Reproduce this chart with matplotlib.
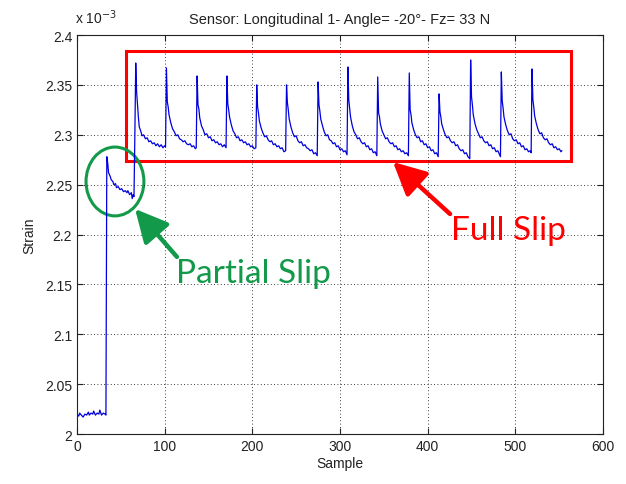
import matplotlib
matplotlib.use('Agg')
import matplotlib.pyplot as plt
from matplotlib.patches import Rectangle, Ellipse
from matplotlib.ticker import FormatStrFormatter

# strain readings (x 10^-3), one vertex per listed sample
samples = [0, 2, 3, 5, 7, 9, 11, 13, 14, 16, 18, 19, 21, 23, 25, 26, 28, 30, 32, 33,
           34, 35, 36, 38, 39, 41, 42, 44, 45, 47, 49, 51, 53, 55, 57, 58, 60, 62, 63, 64, 65,
           66, 67, 68, 69, 70, 71, 73, 74, 76, 78, 80, 82, 84, 86, 88, 90, 92, 94, 96, 98, 100, 101,
           102, 103, 104, 105, 107, 109, 111, 113, 115, 117, 119, 121, 123, 125, 127, 129, 131, 133, 135, 136,
           137, 138, 139, 140, 142, 144, 146, 148, 150, 152, 154, 156, 158, 160, 162, 164, 166, 168, 170,
           171, 172, 173, 174, 176, 178, 180, 182, 184, 186, 188, 190, 192, 194, 196, 198, 200, 202, 204,
           205, 206, 207, 208, 210, 212, 214, 216, 218, 220, 222, 224, 226, 228, 230, 232, 234, 236, 238,
           239, 240, 241, 242, 244, 246, 248, 250, 252, 254, 256, 258, 260, 262, 264, 266, 268, 270, 272, 274,
           275, 276, 277, 278, 280, 282, 284, 286, 288, 290, 292, 294, 296, 298, 300, 302, 304, 306, 308,
           309, 310, 311, 312, 314, 316, 318, 320, 322, 324, 326, 328, 330, 332, 334, 336, 338, 340, 342,
           343, 344, 345, 346, 348, 350, 352, 354, 356, 358, 360, 362, 364, 366, 368, 370, 372, 374, 376, 378,
           379, 380, 381, 382, 384, 386, 388, 390, 392, 394, 396, 398, 400, 402, 404, 406, 408, 410, 412,
           413, 414, 415, 416, 418, 420, 422, 424, 426, 428, 430, 432, 434, 436, 438, 440, 442, 444, 446, 448,
           449, 450, 451, 452, 454, 456, 458, 460, 462, 464, 466, 468, 470, 472, 474, 476, 478, 480, 482, 483,
           484, 485, 486, 487, 489, 491, 493, 495, 497, 499, 501, 503, 505, 507, 509, 511, 513, 515, 517, 518,
           519, 520, 521, 522, 524, 526, 528, 530, 532, 534, 536, 538, 540, 542, 544, 546, 548, 550, 552, 553]

strain = [2.020, 2.018, 2.021, 2.019, 2.017, 2.020, 2.019, 2.022, 2.019, 2.021, 2.020, 2.023, 2.019, 2.021, 2.020, 2.024, 2.019, 2.021, 2.020, 2.019,
          2.278, 2.272, 2.262, 2.258, 2.255, 2.253, 2.250, 2.251, 2.247, 2.248, 2.245, 2.246, 2.243, 2.244, 2.242, 2.244, 2.240, 2.242, 2.236, 2.240, 2.238,
          2.300, 2.372, 2.343, 2.330, 2.318, 2.308, 2.303, 2.299, 2.300, 2.296, 2.297, 2.293, 2.294, 2.291, 2.292, 2.289, 2.291, 2.288, 2.290, 2.287, 2.289, 2.288,
          2.367, 2.333, 2.328, 2.320, 2.312, 2.306, 2.303, 2.299, 2.300, 2.296, 2.295, 2.293, 2.294, 2.291, 2.290, 2.291, 2.288, 2.289, 2.286, 2.287,
          2.359, 2.330, 2.326, 2.317, 2.309, 2.305, 2.300, 2.301, 2.297, 2.298, 2.294, 2.295, 2.292, 2.293, 2.290, 2.291, 2.288, 2.290, 2.287,
          2.359, 2.331, 2.325, 2.318, 2.310, 2.304, 2.301, 2.297, 2.298, 2.294, 2.295, 2.292, 2.293, 2.290, 2.291, 2.288, 2.289, 2.286, 2.287,
          2.350, 2.328, 2.322, 2.314, 2.307, 2.302, 2.298, 2.299, 2.295, 2.293, 2.294, 2.290, 2.291, 2.288, 2.289, 2.286, 2.287, 2.283, 2.284,
          2.350, 2.332, 2.325, 2.316, 2.308, 2.302, 2.298, 2.299, 2.294, 2.292, 2.293, 2.289, 2.290, 2.287, 2.286, 2.284, 2.285, 2.281, 2.282, 2.279,
          2.353, 2.330, 2.324, 2.316, 2.309, 2.303, 2.299, 2.300, 2.295, 2.294, 2.291, 2.292, 2.288, 2.289, 2.285, 2.286, 2.283, 2.284, 2.280,
          2.368, 2.335, 2.327, 2.318, 2.309, 2.303, 2.300, 2.296, 2.297, 2.293, 2.291, 2.292, 2.288, 2.289, 2.285, 2.286, 2.282, 2.283, 2.279,
          2.358, 2.322, 2.318, 2.311, 2.304, 2.300, 2.296, 2.297, 2.293, 2.291, 2.292, 2.288, 2.289, 2.285, 2.286, 2.283, 2.284, 2.281, 2.282, 2.279,
          2.362, 2.325, 2.320, 2.312, 2.305, 2.300, 2.297, 2.298, 2.293, 2.294, 2.290, 2.291, 2.287, 2.288, 2.284, 2.285, 2.281, 2.282, 2.278,
          2.341, 2.323, 2.318, 2.311, 2.305, 2.300, 2.297, 2.298, 2.294, 2.292, 2.293, 2.289, 2.290, 2.286, 2.284, 2.285, 2.281, 2.282, 2.278, 2.276,
          2.375, 2.338, 2.330, 2.320, 2.311, 2.305, 2.301, 2.297, 2.298, 2.294, 2.292, 2.293, 2.289, 2.290, 2.286, 2.287, 2.283, 2.284, 2.280, 2.278,
          2.363, 2.334, 2.327, 2.318, 2.310, 2.304, 2.300, 2.301, 2.296, 2.294, 2.295, 2.291, 2.292, 2.288, 2.289, 2.285, 2.286, 2.283, 2.284, 2.282,
          2.366, 2.335, 2.328, 2.319, 2.311, 2.305, 2.301, 2.302, 2.297, 2.295, 2.296, 2.292, 2.290, 2.291, 2.287, 2.288, 2.285, 2.286, 2.283, 2.284]

x_ticks = [0, 100, 200, 300, 400, 500, 600]
y_ticks = [2.0, 2.05, 2.1, 2.15, 2.2, 2.25, 2.3, 2.35, 2.4]

plt.rcParams['font.family'] = ['Liberation Sans', 'DejaVu Sans']

fig = plt.figure(figsize=(6.26, 4.85), dpi=100)
ax = fig.add_axes([0.123, 0.103, 0.8403, 0.8227])

ax.plot(samples, strain, color='#0000dd', lw=0.9)

ax.set_xlim(0, 600)
ax.set_ylim(2.0, 2.4)
ax.set_xticks(x_ticks)
ax.set_yticks(y_ticks)
ax.yaxis.set_major_formatter(FormatStrFormatter('%g'))
ax.tick_params(direction='in', top=True, right=True, length=4, labelsize=10, colors='#222222')
ax.grid(True, linestyle=(0, (1, 3)), color='black', lw=0.6)
for s in ax.spines.values():
    s.set_color('#222222')

ax.set_title('Sensor: Longitudinal 1- Angle= -20°- Fz= 33 N', fontsize=10.5, color='#222222', pad=9)
ax.set_xlabel('Sample', fontsize=10, color='#222222', labelpad=2)
ax.set_ylabel('Strain', fontsize=10, color='#222222', labelpad=6)
ax.text(-0.004, 1.03, r'x 10$^{-3}$', transform=ax.transAxes, fontsize=10, color='#222222', ha='left', va='baseline')

# annotations drawn over the plot
ax.add_patch(Rectangle((55.5, 2.274), 508.5, 0.1097, fill=False, ec='#ff0000', lw=2.2, clip_on=False))
ax.add_patch(Ellipse((43.3, 2.2532), 66, 0.069, fill=False, ec='#12994a', lw=2.2, clip_on=False))
ax.annotate('', xy=(66.2, 2.2257), xytext=(114, 2.1776),
            arrowprops=dict(arrowstyle='-|>,head_width=0.5,head_length=1.0', lw=3.2, color='#12994a',
                            mutation_scale=20, shrinkA=0, shrinkB=0))
ax.annotate('', xy=(360.4, 2.2727), xytext=(425.5, 2.2206),
            arrowprops=dict(arrowstyle='-|>,head_width=0.5,head_length=1.0', lw=3.2, color='#ff0000',
                            mutation_scale=20, shrinkA=0, shrinkB=0))
ax.text(112.5, 2.1525, 'Partial Slip', fontsize=24, color='#12994a', family='Lato', va='baseline')
ax.text(426.5, 2.1956, 'Full Slip', fontsize=24, color='#ff0000', family='Lato', va='baseline')

fig.savefig('out.png', dpi=100)
